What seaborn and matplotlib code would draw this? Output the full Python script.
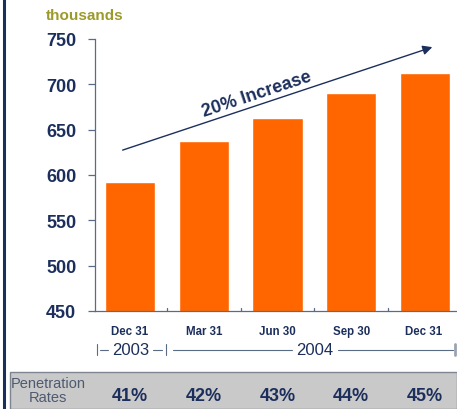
import matplotlib
matplotlib.use("Agg")
import matplotlib.pyplot as plt
import matplotlib.transforms as mtransforms
from matplotlib.patches import Rectangle
from matplotlib.lines import Line2D
import seaborn as sns
import pandas as pd

# Subscriber counts (thousands) at each quarter end
quarters = ["Dec 31", "Mar 31", "Jun 30", "Sep 30", "Dec 31 "]
subscribers = [592, 637, 663, 690, 712]
penetration = ["41%", "42%", "43%", "44%", "45%"]
y_ticks = [450, 500, 550, 600, 650, 700, 750]

sns.set_theme(style="white")
plt.rcParams["font.family"] = ["Liberation Sans", "DejaVu Sans"]

NAVY = "#1c2f5c"
ORANGE = "#ff6600"
AXIS = "#5a6b85"

fig = plt.figure(figsize=(4.57, 4.10), dpi=100)

# penetration rate band along the bottom
fig.patches.append(Rectangle((10 / 457, 0), 1 - 10 / 457, 37 / 410,
                             transform=fig.transFigure, facecolor="#c9c9c9",
                             edgecolor="#7f8590", lw=1.0, zorder=0))

ax = fig.add_axes([95 / 457, 98 / 410, (457 - 95) / 457, 272 / 410])
ax.set_zorder(2)
ax.patch.set_alpha(0)

df = pd.DataFrame({"quarter": quarters, "value": subscribers})
sns.barplot(data=df, x="quarter", y="value", color=ORANGE, saturation=1,
            width=0.68, ax=ax)

ax.set_ylim(450, 750)
ax.set_xlim(-0.475, 4.434)
ax.set_yticks(y_ticks)
ax.set_yticklabels([str(t) for t in y_ticks], fontsize=13,
                   fontweight="bold", color=NAVY)
ax.tick_params(axis="y", direction="out", length=5, width=0.9,
               color=AXIS, pad=8.5, left=True)
ax.set_xticks(range(len(quarters)))
ax.set_xticklabels(quarters, fontsize=8.3, fontweight="bold", color=NAVY)
ax.tick_params(axis="x", length=0, pad=10)
# small inward separators between bars
for xs in [0.5, 1.5, 2.5, 3.5]:
    ax.plot([xs, xs], [450, 453], color=AXIS, lw=0.9, clip_on=False)
ax.set_xlabel("")
ax.set_ylabel("")
for side in ["top", "right"]:
    ax.spines[side].set_visible(False)
for side in ["left", "bottom"]:
    ax.spines[side].set_color(AXIS)
    ax.spines[side].set_linewidth(0.9)

# units label
fig.text(46 / 457, 1 - 16 / 410, "thousands", fontsize=11, fontweight="bold",
         color="#9c9a2a", ha="left", va="center")

# growth arrow and label
ax.annotate("", xy=(4.135, 742), xytext=(-0.136, 626.5),
            arrowprops=dict(arrowstyle="-|>", color=NAVY, lw=1.0,
                            mutation_scale=14), annotation_clip=False)
ax.text(1.72, 690, "20% Increase", rotation=18.4, rotation_mode="anchor",
        ha="center", va="center", fontsize=13, fontweight="bold",
        color=NAVY)

# year brackets below the quarter labels
trans = mtransforms.blended_transform_factory(ax.transData, ax.transAxes)
yy = -0.143
line_kw = dict(color=AXIS, lw=0.8, transform=trans, clip_on=False)
ax.plot([-0.45, -0.45], [yy - 0.02, yy + 0.02], **line_kw)
ax.plot([-0.41, -0.30], [yy, yy], **line_kw)
ax.plot([0.31, 0.43], [yy, yy], **line_kw)
ax.plot([0.49, 0.49], [yy - 0.02, yy + 0.02], **line_kw)
ax.plot([0.58, 2.20], [yy, yy], **line_kw)
ax.plot([2.82, 4.38], [yy, yy], **line_kw)
ax.plot([4.41, 4.41], [yy - 0.02, yy + 0.02], color="#9aa3b3", lw=2.0,
        transform=trans, clip_on=False)
ax.text(0.01, yy, "2003", transform=trans, ha="center", va="center",
        fontsize=12, color=NAVY)
ax.text(2.51, yy, "2004", transform=trans, ha="center", va="center",
        fontsize=12, color=NAVY)

fig.text(48 / 457, 19 / 410, "Penetration\nRates", ha="center", va="center",
         fontsize=10.5, color="#4d5a70", linespacing=0.95)
for i, rate in enumerate(penetration):
    ax.text(i, -0.310, rate, transform=trans, ha="center", va="center",
            fontsize=13, fontweight="bold", color=NAVY)

# left frame edge
fig.lines.append(Line2D([4 / 457, 4 / 457], [0, 1], transform=fig.transFigure,
                        color=NAVY, lw=2.2))

fig.savefig("out.png", dpi=100)
